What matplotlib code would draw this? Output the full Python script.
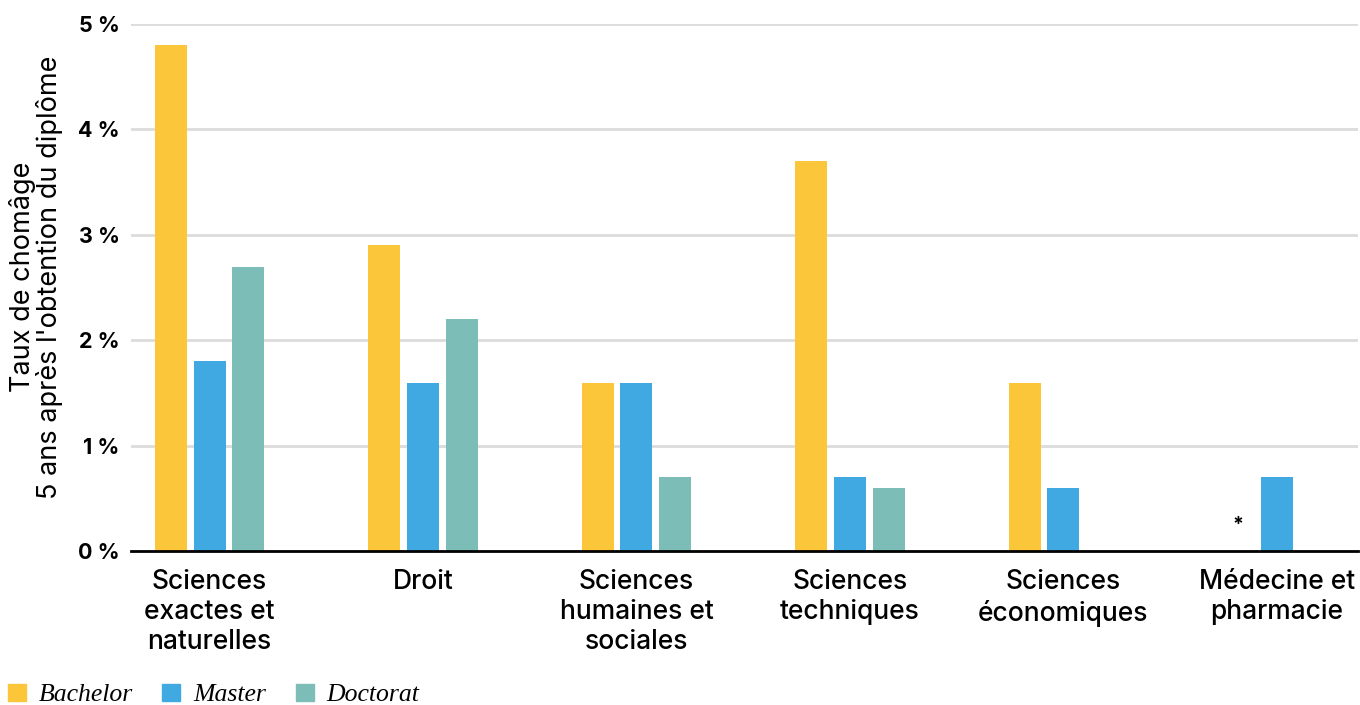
import numpy as np
import matplotlib
matplotlib.use("Agg")
import matplotlib.pyplot as plt
from matplotlib.patches import Patch

# data (unemployment rate, %)
categories = ["Sciences\nexactes et\nnaturelles", "Droit", "Sciences\nhumaines et\nsociales",
              "Sciences\ntechniques", "Sciences\néconomiques", "Médecine et\npharmacie"]
bachelor = [4.8, 2.9, 1.6, 3.7, 1.6, np.nan]
master = [1.8, 1.6, 1.6, 0.7, 0.6, 0.7]
doctorat = [2.7, 2.2, 0.7, 0.6, np.nan, np.nan]
yticks = [0, 1, 2, 3, 4, 5]

colors = {"Bachelor": "#fbc63a", "Master": "#41a9e1", "Doctorat": "#7dbdb8"}

plt.rcParams['font.family'] = ['Inter', 'DejaVu Sans']

fig = plt.figure(figsize=(13.6, 7.05), dpi=100)
ax = fig.add_axes([0.0963, 0.218, 0.9022, 0.748])

x = np.arange(len(categories))
width = 0.15
step = 0.182

ax.bar(x - step, bachelor, width, color=colors["Bachelor"], zorder=3)
ax.bar(x, master, width, color=colors["Master"], zorder=3)
ax.bar(x + step, doctorat, width, color=colors["Doctorat"], zorder=3)

# missing bachelor value for medicine
ax.text(x[-1] - step, 0.25, "*", ha="center", va="center", fontsize=14, fontweight="bold", zorder=4)

ax.set_xlim(-0.368, 5.38)
ax.set_ylim(0, 5)
ax.set_yticks(yticks)
ax.set_yticklabels([f"{v} %" for v in yticks], fontsize=15.5, fontweight="bold")
ax.set_xticks(x)
ax.set_xticklabels(categories, fontsize=19, fontweight="medium", linespacing=1.2)
ax.tick_params(axis="both", length=0)
ax.tick_params(axis="y", pad=8)
ax.tick_params(axis="x", pad=13)

ax.grid(axis="y", color="#dcdcdc", linewidth=2, zorder=0)
for s in ["top", "right", "left"]:
    ax.spines[s].set_visible(False)
ax.spines["bottom"].set_linewidth(2)
ax.spines["bottom"].set_zorder(4)

ax.set_ylabel("Taux de chomâge\n5 ans après l'obtention du diplôme", fontsize=19.5,
              linespacing=1.0)
ax.yaxis.set_label_coords(-0.055, 0.52)

handles = [Patch(color=c, label=k) for k, c in colors.items()]
fig.legend(handles=handles, loc="center left", bbox_to_anchor=(0.0, 10 / 705), ncol=3, frameon=False,
           prop={"family": "Liberation Serif", "style": "italic", "size": 18.5},
           handlelength=0.7, handleheight=0.7, handletextpad=0.5, columnspacing=1.15,
           borderaxespad=0.0, borderpad=0.3)

fig.savefig("out.png", dpi=100)
